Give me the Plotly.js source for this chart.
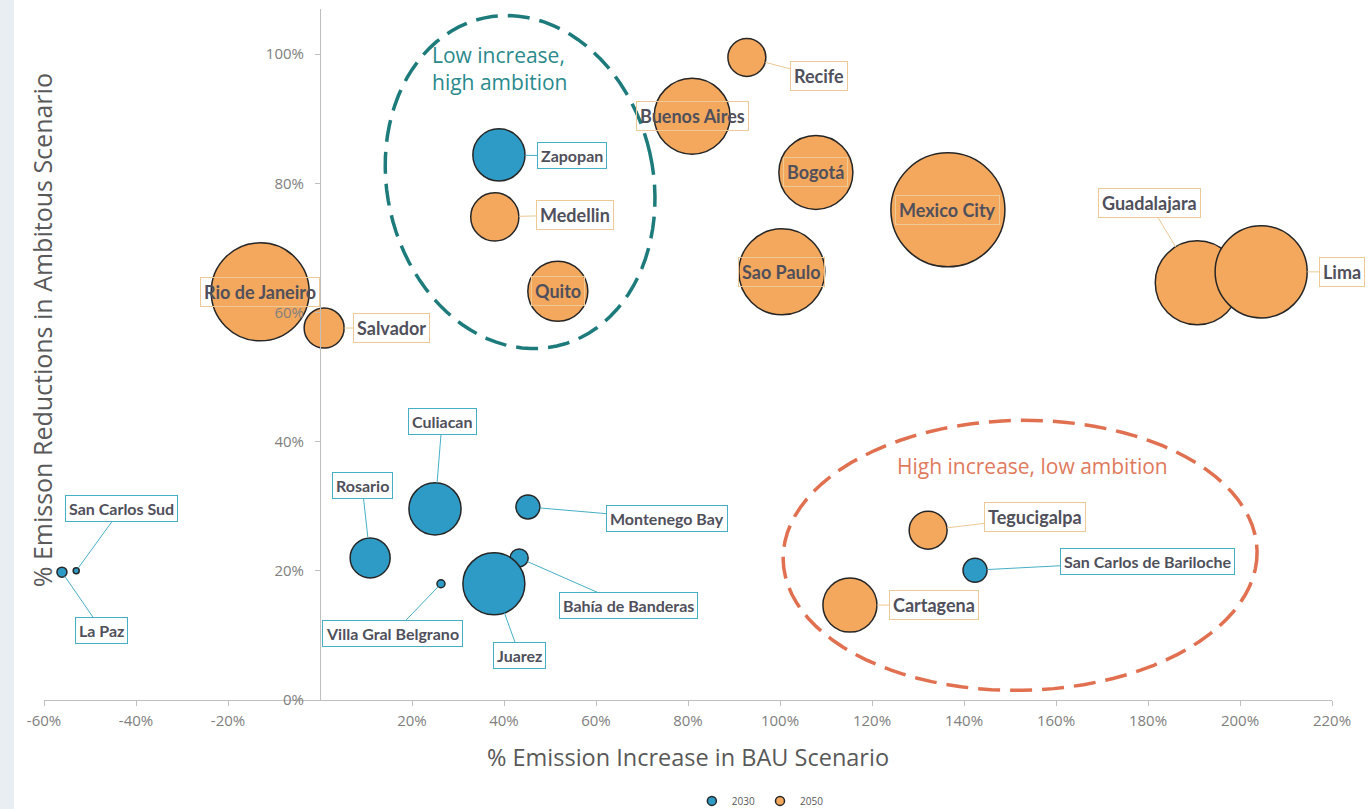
<!DOCTYPE html>
<html>
<head>
<meta charset="utf-8">
<script src="https://cdn.plot.ly/plotly-3.0.1.min.js"></script>
<style>html,body{margin:0;padding:0;background:#fff;}#chart{width:1370px;height:809px;}</style>
</head>
<body>
<div id="chart"></div>
<script>
// ---- Data ----
const names2030 = ['Zapopan','La Paz','San Carlos Sud','Rosario','Culiacan','Montenego Bay','Bahía de Banderas','Villa Gral Belgrano','Juarez','San Carlos de Bariloche'];
const bau2030 = [38.9, -56.1, -53.0, 10.9, 25.0, 45.2, 43.3, 26.3, 37.8, 142.4];
const red2030 = [84.4, 19.8, 20.0, 22.0, 29.6, 29.9, 22.0, 18.0, 18.0, 20.1];
const size2030 = [6.8, 0.25, 0.09, 4.0, 6.8, 1.44, 0.81, 0.16, 9.6, 1.44];

const names2050 = ['Rio de Janeiro','Salvador','Recife','Buenos Aires','Medellin','Quito','Sao Paulo','Bogotá','Mexico City','Guadalajara','Lima','Tegucigalpa','Cartagena'];
const bau2050 = [-13.0, 0.9, 92.8, 80.9, 38.0, 51.7, 100.4, 107.8, 136.5, 190.7, 204.6, 132.2, 115.2];
const red2050 = [63.2, 57.6, 99.5, 90.4, 74.8, 63.3, 66.3, 81.7, 75.9, 64.6, 66.3, 26.3, 14.7];
const size2050 = [24.0, 4.0, 3.6, 14.4, 5.8, 9.0, 18.5, 13.7, 32.5, 17.6, 21.2, 3.6, 7.3];

const xTickVals = [-60,-40,-20,20,40,60,80,100,120,140,160,180,200,220];
const yTickVals = [0,20,40,60,80,100];
const seriesNames = ['2030','2050'];

// ---- Styles ----
const W = 1370, H = 809;
const M = {l:44, r:38, t:9, b:109};
const xRange = [-60, 220], yRange = [0, 107];
const pxX = (W - M.l - M.r) / (xRange[1] - xRange[0]);
const pxY = (H - M.t - M.b) / (yRange[1] - yRange[0]);
const SIZEREF = 0.005;
const diameterOf = v => Math.sqrt(2 * v / SIZEREF);
const BLUE = '#2E9BC6', ORANGE = '#F4A85E', OUTLINE = '#262626';
const TXT = '#50505c';
const pct = v => String(v) + '%';

// label offsets in px (null = centered on bubble)
const off2030 = {'Zapopan':[73,1],'La Paz':[40,58],'San Carlos Sud':[45,-62],'Rosario':[-8,-72],'Culiacan':[7,-87],
  'Montenego Bay':[139,12],'Bahía de Banderas':[109,48],'Villa Gral Belgrano':[-48,50],'Juarez':[26,72],'San Carlos de Bariloche':[172,-9]};
const off2050 = {'Rio de Janeiro':null,'Salvador':[67,0],'Recife':[72,19],'Buenos Aires':null,'Medellin':[80,-2],'Quito':null,
  'Sao Paulo':null,'Bogotá':null,'Mexico City':null,'Guadalajara':[-48,-80],'Lima':[81,0],'Tegucigalpa':[107,-13],'Cartagena':[84,0]};

function bubble(name, xs, ys, ss, color){
  return {type:'scatter', mode:'markers', name:name, x:xs, y:ys, showlegend:false, hoverinfo:'x+y',
    marker:{size:ss, sizemode:'area', sizeref:SIZEREF, color:color, opacity:1, line:{color:OUTLINE, width:1.5}}};
}
function legendItem(name, color){
  return {type:'scatter', mode:'markers', name:name, x:[null], y:[null], showlegend:true,
    marker:{size:9, color:color, line:{color:OUTLINE, width:1.5}}};
}

const annotations = [];
function addLabels(names, xs, ys, ss, offs, border, fsize, pad){
  names.forEach((n,i)=>{
    const o = offs[n];
    const diam = diameterOf(ss[i]);
    if(o === null){
      annotations.push({x:xs[i], y:ys[i], xref:'x', yref:'y', text:n, showarrow:false,
        font:{family:'Lato', size:fsize, color:TXT, weight:'bold'},
        bordercolor:border, borderwidth:1, borderpad:pad, bgcolor:'rgba(0,0,0,0)'});
    } else {
      annotations.push({x:xs[i], y:ys[i], xref:'x', yref:'y', text:n, showarrow:true,
        ax:o[0], ay:o[1], arrowhead:0, arrowwidth:1, arrowcolor:border, standoff:diam/2,
        font:{family:'Lato', size:fsize, color:TXT, weight:'bold'},
        bordercolor:border, borderwidth:1, borderpad:pad, bgcolor:'#ffffff'});
    }
  });
}
addLabels(names2030, bau2030, red2030, size2030, off2030, '#46AFC5', 16, 3);
addLabels(names2050, bau2050, red2050, size2050, off2050, '#EDC995', 18, 3);

// zone texts
annotations.push({x:23.9, y:97.8, xref:'x', yref:'y', xanchor:'left', yanchor:'middle', align:'left', showarrow:false,
  text:'Low increase,<br>high ambition', font:{family:'Open Sans', size:21, color:'#2A8A8C'}});
annotations.push({x:154.8, y:36.2, xref:'x', yref:'y', xanchor:'center', showarrow:false,
  text:'High increase, low ambition', font:{family:'Open Sans', size:21, color:'#E07A5C'}});
// y axis title (placed at far left as in the reference)
annotations.push({x:-0.0016, y:0.535, xref:'paper', yref:'paper', textangle:-90, showarrow:false, xanchor:'center', yanchor:'middle',
  text:'% Emisson Reductions in Ambitous Scenario', font:{family:'Open Sans', size:25, color:'#595959'}});

function ellipsePath(cx, cy, rxPx, ryPx, rotDeg){
  const th = rotDeg*Math.PI/180; let d = '';
  for(let k=0;k<=96;k++){
    const t = 2*Math.PI*k/96;
    const px = rxPx*Math.cos(t), py = ryPx*Math.sin(t);
    const xr = px*Math.cos(th) - py*Math.sin(th);
    const yr = px*Math.sin(th) + py*Math.cos(th);
    const X = cx + xr/pxX, Y = cy - yr/pxY;
    d += (k===0?'M':'L') + X.toFixed(3) + ',' + Y.toFixed(3);
  }
  return d + 'Z';
}

const shapes = [
  {type:'rect', xref:'paper', yref:'paper', x0:-0.0342, x1:-0.0233, y0:-0.16, y1:1.02, fillcolor:'#E9EEF3', line:{width:0}, layer:'below'},
  {type:'path', xref:'x', yref:'y', path:ellipsePath(43.5, 80.2, 133, 168, -12.6), line:{color:'#1E7B7C', width:3.5, dash:'22px,10px'}},
  {type:'path', xref:'x', yref:'y', path:ellipsePath(152.2, 22.4, 237, 135, -1), line:{color:'#E07050', width:3.5, dash:'22px,10px'}}
];

const data = [
  bubble(seriesNames[0], bau2030, red2030, size2030, BLUE),
  bubble(seriesNames[1], bau2050, red2050, size2050, ORANGE),
  legendItem(seriesNames[0], BLUE),
  legendItem(seriesNames[1], ORANGE)
];

const layout = {
  width:W, height:H, margin:M, paper_bgcolor:'#ffffff', plot_bgcolor:'rgba(0,0,0,0)',
  font:{family:'Open Sans', color:'#595959'},
  xaxis:{range:xRange, tickmode:'array', tickvals:xTickVals, ticktext:xTickVals.map(pct), showgrid:false, zeroline:false, showline:true,
    linecolor:'#BFBFBF', linewidth:1, ticks:'outside', ticklen:5, tickcolor:'#BFBFBF', automargin:false, ticklabelstandoff:2,
    tickfont:{family:'Open Sans', size:15, color:'#808080'},
    title:{text:'% Emission Increase in BAU Scenario', font:{family:'Open Sans', size:23.5, color:'#595959'}, standoff:20}},
  yaxis:{range:yRange, tickmode:'array', tickvals:yTickVals, ticktext:yTickVals.map(pct), showgrid:false, zeroline:false, showline:true,
    anchor:'free', position:(0 - xRange[0])/(xRange[1]-xRange[0]), automargin:false, ticklabelstandoff:8,
    linecolor:'#BFBFBF', linewidth:1, ticks:'outside', ticklen:5, tickcolor:'#BFBFBF',
    tickfont:{family:'Open Sans', size:15, color:'#808080'}},
  showlegend:true,
  legend:{orientation:'h', xref:'container', yref:'container', x:0.555, xanchor:'center', y:0.01, yanchor:'middle',
    font:{size:10, color:'#595959'}, bgcolor:'rgba(0,0,0,0)', itemwidth:30},
  annotations:annotations, shapes:shapes
};
Plotly.newPlot('chart', data, layout, {displayModeBar:false, staticPlot:true});
</script>
</body>
</html>
